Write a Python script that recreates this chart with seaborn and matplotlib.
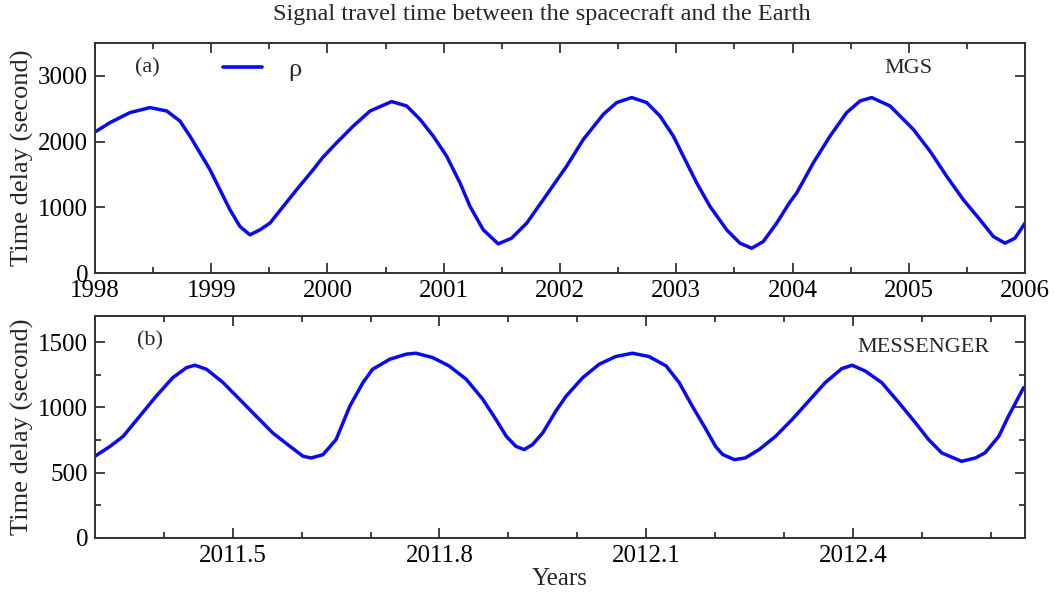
"""Signal travel time (spacecraft <-> Earth) for MGS and MESSENGER, two stacked panels."""

import matplotlib
matplotlib.use("Agg")
import matplotlib.pyplot as plt
import pandas as pd
import seaborn as sns
from matplotlib.ticker import FixedLocator, FormatStrFormatter, MultipleLocator

# Panel (a): MGS
MGS_YEAR = [1998.000, 1998.129, 1998.301, 1998.473, 1998.617, 1998.731, 1998.817, 1998.903,
            1998.989, 1999.075, 1999.161, 1999.247, 1999.333, 1999.419, 1999.505, 1999.620,
            1999.735, 1999.878, 1999.960, 2000.079, 2000.222, 2000.366, 2000.552, 2000.681,
            2000.796, 2000.910, 2001.025, 2001.140, 2001.226, 2001.340, 2001.469, 2001.584,
            2001.714, 2001.856, 2001.960, 2002.057, 2002.201, 2002.373, 2002.488, 2002.617,
            2002.746, 2002.860, 2002.975, 2003.061, 2003.176, 2003.290, 2003.434, 2003.548,
            2003.649, 2003.749, 2003.864, 2003.978, 2004.036, 2004.179, 2004.323, 2004.466,
            2004.581, 2004.681, 2004.839, 2005.039, 2005.183, 2005.326, 2005.469, 2005.613,
            2005.728, 2005.828, 2005.914, 2006.000]
MGS_DELAY = [2145, 2288, 2441, 2517, 2466, 2313, 2083, 1829,
             1574, 1269, 963, 708, 581, 657, 759, 1014,
             1269, 1574, 1760, 1982, 2236, 2465, 2609, 2542,
             2338, 2083, 1778, 1371, 1014, 657, 443, 530,
             759, 1116, 1380, 1625, 2033, 2415, 2594, 2670,
             2594, 2389, 2083, 1778, 1371, 1014, 657, 454,
             377, 479, 759, 1080, 1218, 1676, 2083, 2441,
             2618, 2670, 2542, 2186, 1854, 1472, 1116, 810,
             555, 454, 530, 760]

# Panel (b): MESSENGER
MSG_YEAR = [2011.300, 2011.322, 2011.341, 2011.365, 2011.389, 2011.413, 2011.433, 2011.445,
            2011.462, 2011.486, 2011.510, 2011.534, 2011.558, 2011.583, 2011.602, 2011.614,
            2011.631, 2011.650, 2011.670, 2011.689, 2011.703, 2011.728, 2011.752, 2011.766,
            2011.790, 2011.814, 2011.839, 2011.863, 2011.882, 2011.897, 2011.911, 2011.923,
            2011.935, 2011.950, 2011.969, 2011.984, 2012.008, 2012.032, 2012.056, 2012.080,
            2012.104, 2012.129, 2012.148, 2012.167, 2012.187, 2012.201, 2012.211, 2012.228,
            2012.244, 2012.264, 2012.288, 2012.312, 2012.336, 2012.360, 2012.384, 2012.399,
            2012.418, 2012.442, 2012.467, 2012.491, 2012.510, 2012.529, 2012.558, 2012.578,
            2012.592, 2012.612, 2012.626, 2012.648]
MSG_DELAY = [626, 702, 779, 933, 1087, 1228, 1305, 1323,
             1292, 1190, 1062, 933, 805, 702, 626, 613,
             638, 754, 1010, 1190, 1292, 1369, 1408, 1415,
             1382, 1318, 1215, 1062, 908, 779, 702, 677,
             715, 805, 972, 1087, 1228, 1331, 1390, 1415,
             1390, 1318, 1190, 1010, 831, 700, 640, 600,
             613, 677, 779, 908, 1049, 1190, 1297, 1323,
             1279, 1190, 1036, 882, 754, 652, 587, 613,
             652, 779, 933, 1152]

TITLE = "Signal travel time between the spacecraft and the Earth"
YLABEL = "Time delay (second)"
LINE_COLOR = "#0a0af0"


def style_axes(ax):
    ax.tick_params(which="both", direction="in", top=True, right=True,
                   colors="#222222", labelcolor="black", labelsize=18, pad=5)
    ax.tick_params(which="major", length=7, width=1.2)
    ax.tick_params(which="minor", length=4.5, width=1.2)
    for sp in ax.spines.values():
        sp.set_visible(True)
        sp.set_color("#333333")
        sp.set_linewidth(1.4)
    ax.grid(False)


def main():
    sns.set_theme(style="ticks")
    plt.rcParams.update({"font.family": ["Liberation Serif", "DejaVu Serif"],
                         "mathtext.fontset": "stix"})

    fig = plt.figure(figsize=(10.54, 5.94), dpi=100)
    ax1 = fig.add_axes([0.0901, 0.5404, 0.8824, 0.3872])
    ax2 = fig.add_axes([0.0901, 0.0943, 0.8824, 0.3737])

    mgs = pd.DataFrame({"year": MGS_YEAR, "delay": MGS_DELAY})
    msg = pd.DataFrame({"year": MSG_YEAR, "delay": MSG_DELAY})

    sns.lineplot(data=mgs, x="year", y="delay", ax=ax1, color=LINE_COLOR,
                 linewidth=2.5, label="ρ", sort=True)
    sns.lineplot(data=msg, x="year", y="delay", ax=ax2, color=LINE_COLOR,
                 linewidth=2.5, legend=False, sort=True)
    for ax in (ax1, ax2):
        for ln in ax.get_lines():
            ln.set_solid_joinstyle("round")

    # panel (a)
    ax1.set_xlim(1998, 2006)
    ax1.set_ylim(0, 3500)
    ax1.xaxis.set_major_locator(MultipleLocator(1))
    ax1.xaxis.set_minor_locator(MultipleLocator(0.5))
    ax1.yaxis.set_major_locator(MultipleLocator(1000))
    ax1.set_xlabel("")
    ax1.set_ylabel(YLABEL, fontsize=19, labelpad=3)
    style_axes(ax1)
    ax1.text(0.056, 0.89, "(a)", transform=ax1.transAxes, fontsize=16,
             ha="center", va="center")
    ax1.text(0.875, 0.89, "MGS", transform=ax1.transAxes, fontsize=16,
             ha="center", va="center")
    leg = ax1.legend(loc="center", bbox_to_anchor=(0.18, 0.885), frameon=False,
                     fontsize=19, handlelength=1.5, handletextpad=1.0)
    for h in leg.get_lines():
        h.set_linewidth(2.6)

    # panel (b)
    ax2.set_xlim(2011.3, 2012.65)
    ax2.set_ylim(0, 1700)
    ax2.xaxis.set_major_locator(FixedLocator([2011.5, 2011.8, 2012.1, 2012.4]))
    ax2.xaxis.set_major_formatter(FormatStrFormatter("%.1f"))
    ax2.xaxis.set_minor_locator(MultipleLocator(0.1))
    ax2.yaxis.set_major_locator(MultipleLocator(500))
    ax2.yaxis.set_minor_locator(MultipleLocator(250))
    ax2.set_xlabel("Years", fontsize=18, labelpad=1)
    ax2.set_ylabel(YLABEL, fontsize=19, labelpad=3)
    style_axes(ax2)
    ax2.text(0.059, 0.89, "(b)", transform=ax2.transAxes, fontsize=16,
             ha="center", va="center")
    ax2.text(0.891, 0.856, "MESSENGER", transform=ax2.transAxes, fontsize=16,
             ha="center", va="center")

    fig.text(0.514, 0.976, TITLE, fontsize=17.5, ha="center", va="center")

    fig.savefig("out.png", dpi=100)
    plt.close(fig)


if __name__ == "__main__":
    main()
